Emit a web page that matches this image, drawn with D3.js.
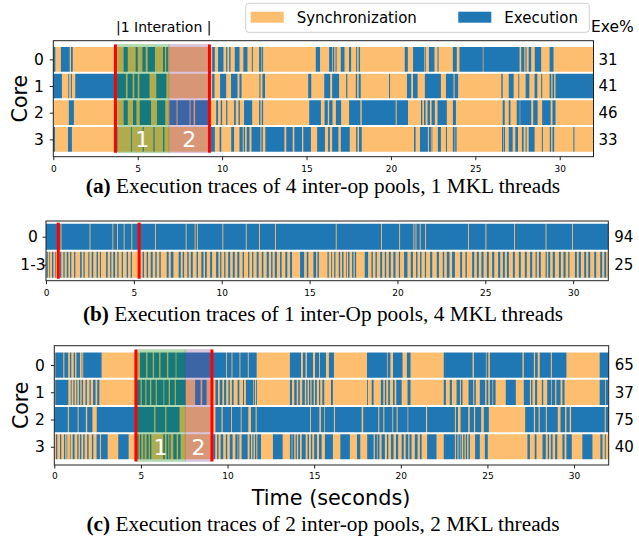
<!DOCTYPE html>
<html>
<head>
<meta charset="utf-8">
<script src="https://cdn.jsdelivr.net/npm/d3@7"></script>
<style>
  body { margin: 0; background: #fff; }
  text { font-family: "DejaVu Sans", sans-serif; }
  .caption { font-family: "Liberation Serif", "Times New Roman", serif; }
</style>
</head>
<body>
<svg id="chart" width="639" height="537"></svg>
<script>
// ---------- data (seconds) ----------
const timeTicks = [0, 5, 10, 15, 20, 25, 30];
const timeMax = 32;
const legendLabels = ["Synchronization", "Execution"];

// (a) 4 inter-op pools, 1 MKL threads
const coresA = ["0", "1", "2", "3"];
const exePctA = [31, 41, 46, 33];
const execA0 = [[0, 0.12], [0.45, 0.97], [1.05, 1.15],
  [4.17, 4.41], [4.88, 5.0], [5.28, 5.47], [5.59, 6.02], [6.5, 6.61], [6.69, 6.79],
  [9.41, 9.57], [9.76, 10.08], [10.24, 10.31], [10.42, 10.5], [10.75, 11.03], [11.26, 11.5], [11.76, 11.82],
  [12.19, 12.33], [12.37, 12.43], [15.55, 15.8], [16.34, 16.52], [16.56, 16.64], [16.72, 16.78], [17.03, 17.25],
  [17.52, 17.64], [17.94, 18.0], [18.09, 18.17], [20.82, 21.0], [21.31, 21.96], [22.0, 22.06], [22.25, 22.58],
  [22.76, 22.82], [23.67, 23.9], [24.06, 25.44], [25.48, 27.62], [27.72, 27.9], [27.97, 28.03], [28.16, 28.31],
  [28.52, 28.9], [29.4, 29.63]];
const execA1 = [[0, 0.51], [0.89, 0.94], [1.04, 1.1], [1.3, 3.68],
  [3.68, 4.3], [4.4, 4.7], [4.8, 5.0], [5.1, 5.7], [6.1, 6.7],
  [9.41, 9.55], [9.88, 10.24], [10.53, 10.91], [11.03, 11.15], [12.21, 12.27], [12.39, 12.54],
  [15.1, 15.28], [16.05, 16.4], [16.52, 16.93], [17.35, 17.42], [17.92, 18.0], [18.09, 18.21], [19.89, 19.95],
  [20.95, 21.2], [21.31, 21.58], [22.01, 22.96], [23.26, 23.71], [23.77, 23.98], [26.54, 26.62], [26.98, 27.27],
  [27.55, 27.6], [27.98, 28.2], [28.51, 28.67], [28.9, 28.96], [29.4, 29.5], [29.57, 29.67], [29.75, 32]];
const execA2 = [[0.92, 1.22],
  [4.17, 4.41], [4.72, 4.92], [5.12, 5.79], [6.14, 6.63],
  [6.88, 7.3], [7.36, 8.07], [8.13, 8.31], [8.4, 9.22],
  [9.65, 9.76], [9.92, 10.0], [10.24, 10.31], [10.71, 10.81], [10.97, 11.05], [11.3, 11.78], [12.19, 12.27],
  [12.35, 12.43], [15.16, 15.85], [16.07, 16.26], [16.34, 16.54], [16.74, 17.05], [17.52, 18.19], [18.27, 20.28],
  [20.34, 21.01], [21.78, 21.86], [21.96, 22.05], [22.17, 22.31], [22.41, 22.6], [22.76, 23.31], [23.67, 23.85],
  [26.62, 26.74], [26.98, 27.08], [27.45, 27.63], [27.66, 28.31], [28.43, 28.69], [28.96, 29.46], [29.57, 29.75]];
const execA3 = [[0, 0.1], [0.87, 1.1],
  [3.72, 3.8], [4.6, 4.65], [5.3, 5.36], [5.93, 6.0], [6.5, 6.58],
  [9.33, 9.57], [9.85, 9.95], [10.54, 10.71], [11.03, 11.22], [11.28, 11.36], [11.46, 11.62], [11.74, 12.27],
  [12.33, 12.41], [12.56, 13.69], [13.8, 14.18], [14.28, 14.73], [14.81, 15.26], [15.63, 16.09], [16.28, 16.38],
  [16.52, 16.89], [17.03, 17.56], [17.94, 18.02], [18.11, 18.27], [21.37, 21.46], [21.72, 22.19], [22.25, 22.37],
  [22.41, 22.45], [22.78, 22.96], [23.26, 23.32], [23.67, 23.77], [23.81, 23.89], [26.58, 26.66], [26.7, 26.76],
  [26.98, 27.21], [27.37, 27.53], [27.76, 27.86], [27.98, 28.04], [28.16, 28.51], [28.94, 29.0], [29.41, 29.49],
  [29.57, 29.67], [30.81, 30.87]];
const iterA = [3.68, 6.85, 9.25];   // red line, op1 -> op2, red line

// (b) 1 inter-op pool, 4 MKL threads
const coresB = ["0", "1-3"];
const exePctB = [94, 25];
const execB0 = [[0, 0.83], [0.88, 2.48], [2.53, 3.78], [3.83, 4.04], [4.09, 4.42], [4.47, 4.86], [4.91, 6.2],
  [6.25, 7.95], [8.0, 8.46], [8.51, 8.59], [8.64, 10.04], [10.09, 11.37], [11.42, 12.12], [12.17, 13.03],
  [13.08, 16.49], [16.54, 19.07], [19.12, 20.1], [20.15, 20.91], [20.96, 21.03], [21.08, 21.27], [21.32, 21.58],
  [21.63, 24.02], [24.07, 25.01], [25.06, 26.64], [26.69, 28.43], [28.48, 29.94], [29.99, 32]];
const execB1 = [[0.04, 0.1], [0.19, 0.23], [0.34, 0.42], [0.53, 0.57], [0.8, 0.87], [0.99, 1.06], [1.18, 1.27],
  [1.37, 1.44], [1.6, 1.67], [1.94, 2.03], [2.13, 2.2], [2.41, 2.47], [2.6, 2.69], [2.88, 2.96], [3.07, 3.13],
  [3.42, 3.51], [3.65, 3.72], [3.83, 3.93], [4.06, 4.13], [4.31, 4.38], [4.59, 4.67], [4.82, 4.89], [5.5, 5.58],
  [5.73, 5.81], [5.96, 6.07], [6.22, 6.3], [6.45, 6.53], [6.87, 6.98], [7.1, 7.25], [7.55, 7.67], [7.78, 7.86],
  [8.04, 8.12], [8.24, 8.35], [8.57, 8.65], [8.84, 8.96], [9.05, 9.15], [9.34, 9.45], [9.68, 9.81], [9.91, 9.98],
  [10.14, 10.21], [10.37, 10.48], [10.63, 10.74], [10.89, 11.0], [11.19, 11.27], [11.5, 11.57], [11.73, 11.8],
  [11.99, 12.1], [12.28, 12.37], [12.56, 12.68], [12.81, 12.89], [13.02, 13.14], [13.32, 13.41], [13.62, 13.73],
  [13.89, 14.0], [14.46, 14.69], [14.84, 14.93], [15.22, 15.37], [15.45, 15.53], [16.02, 16.09], [16.23, 16.28],
  [16.4, 16.47], [16.66, 16.74], [16.85, 16.93], [17.08, 17.12], [17.19, 17.27], [17.42, 17.5], [17.57, 17.65],
  [18.14, 18.33], [18.52, 18.6], [18.75, 18.83], [19.02, 19.13], [19.28, 19.36], [19.51, 19.62], [19.77, 19.89],
  [20.08, 20.15], [20.38, 20.57], [20.76, 20.88], [21.06, 21.14], [21.29, 21.37], [21.56, 21.63], [21.86, 21.98],
  [22.24, 22.36], [22.58, 22.66], [22.81, 22.96], [23.11, 23.27], [23.57, 23.68], [23.87, 23.95], [24.25, 24.37],
  [24.52, 24.63], [24.78, 24.9], [25.09, 25.2], [25.39, 25.51], [25.73, 25.85], [26.0, 26.11], [26.23, 26.34],
  [26.57, 26.68], [26.91, 27.02], [27.25, 27.36], [27.55, 27.67], [27.86, 27.93], [28.05, 28.16], [28.43, 28.5],
  [28.58, 28.69], [28.84, 28.96], [29.19, 29.3], [29.45, 29.57], [29.72, 29.79], [30.1, 30.21], [30.32, 30.44],
  [30.63, 30.74], [30.86, 30.97], [31.2, 31.31], [31.54, 31.65], [31.77, 31.88]];
const iterB = [0.7, 5.3];

// (c) 2 inter-op pools, 2 MKL threads
const coresC = ["0", "1", "2", "3"];
const exePctC = [65, 37, 75, 40];
const execC0 = [[0.06, 0.52], [0.58, 0.8], [0.9, 0.98], [1.12, 1.2], [1.28, 1.48], [1.58, 1.62], [1.67, 2.73],
  [4.95, 5.3], [5.38, 5.68], [5.76, 6.05], [6.13, 6.5], [6.58, 7.0], [7.05, 9.92], [9.97, 10.23], [10.28, 10.69],
  [10.74, 11.17], [11.22, 11.68], [13.6, 14.24], [14.35, 14.5], [14.58, 14.93], [15.05, 15.28], [15.33, 15.68],
  [15.85, 16.14], [18.05, 19.2], [19.24, 19.4], [19.55, 20.1], [20.35, 20.56], [22.48, 24.14], [24.22, 24.91],
  [24.95, 25.05], [25.14, 27.02], [27.1, 27.68], [27.75, 27.9], [28.02, 28.66], [28.72, 29.56], [31.48, 32]];
const execC1 = [[0.06, 0.81], [0.95, 1.0], [1.1, 1.17], [1.27, 1.33], [1.42, 1.5], [1.58, 1.66], [1.8, 1.88],
  [2.03, 2.1], [2.24, 2.38], [2.48, 2.6], [4.72, 4.98], [5.05, 5.25], [5.32, 5.52], [5.6, 5.85], [5.92, 6.3],
  [6.35, 6.6], [6.68, 6.95], [7.02, 7.58], [8.13, 8.44], [8.54, 8.79], [9.3, 9.45], [9.55, 9.7], [9.8, 9.92],
  [10.05, 10.13], [10.25, 10.35], [10.58, 10.68], [10.89, 10.95], [11.06, 11.49], [11.53, 11.58], [11.64, 11.69],
  [13.6, 13.72], [13.85, 13.99], [14.08, 14.17], [14.31, 14.46], [14.54, 14.62], [14.7, 14.78], [14.85, 14.97],
  [15.05, 15.15], [15.28, 15.35], [15.47, 15.58], [15.97, 16.08], [18.05, 18.1], [18.32, 18.43], [18.85, 18.99],
  [19.08, 19.16], [19.27, 19.37], [19.55, 19.64], [19.74, 20.05], [20.39, 20.56], [22.48, 22.6], [22.83, 22.95],
  [23.22, 23.41], [23.47, 23.56], [23.91, 24.18], [24.24, 24.33], [24.56, 24.87], [24.95, 25.05], [25.14, 25.29],
  [25.33, 25.47], [26.06, 26.64], [27.1, 27.45], [27.52, 27.6], [27.75, 27.87], [28.14, 28.22], [28.45, 28.68],
  [28.72, 28.91], [28.98, 29.22], [29.33, 29.45], [31.48, 31.79], [31.83, 31.97]];
const execC2 = [[0.02, 0.78], [0.84, 1.35], [1.4, 1.82], [1.9, 2.2], [2.45, 5.76], [5.84, 6.4], [6.47, 7.23],
  [9.3, 9.65], [9.72, 10.2], [10.25, 10.76], [10.81, 11.2], [11.35, 11.62], [11.68, 14.76], [14.81, 15.3],
  [15.39, 15.58], [15.62, 16.14], [16.2, 17.74], [17.83, 18.7], [18.76, 18.99], [19.05, 19.51], [19.56, 19.76],
  [19.82, 20.39], [20.43, 21.45], [21.52, 23.12], [23.18, 23.3], [23.45, 23.89], [23.98, 24.22], [24.29, 24.64],
  [24.79, 25.08], [27.18, 27.68], [27.75, 27.95], [28.02, 28.37], [28.43, 29.06], [29.22, 29.48], [29.56, 29.75],
  [29.83, 31.77], [31.83, 32]];
const execC3 = [[0.1, 0.17], [0.33, 0.4], [0.56, 0.63], [0.71, 0.75], [0.9, 0.94], [1.06, 1.17], [1.33, 1.4],
  [1.48, 1.56], [1.67, 1.75], [1.9, 1.98], [2.17, 2.25], [2.44, 2.63], [2.69, 3.08], [3.69, 4.29],
  [4.79, 4.86], [4.94, 5.02], [5.14, 5.21], [5.33, 5.44], [5.52, 5.6], [6.29, 6.38], [6.48, 6.58], [6.64, 6.71],
  [6.87, 7.06], [7.15, 7.29], [9.17, 9.29], [9.4, 9.48], [9.6, 9.75], [9.9, 9.98], [10.13, 10.29], [10.45, 10.58],
  [10.62, 10.68], [10.81, 11.16], [11.27, 11.35], [11.43, 11.5], [11.58, 11.66], [11.72, 11.93], [12.62, 13.18],
  [13.6, 13.7], [13.74, 13.85], [13.93, 14.0], [14.08, 14.18], [14.28, 14.51], [14.62, 14.7], [14.81, 14.89],
  [15.0, 15.16], [15.28, 15.43], [15.62, 16.08], [16.51, 17.06], [17.47, 17.66], [18.06, 18.43], [18.5, 18.62],
  [18.66, 18.77], [18.89, 19.08], [19.2, 19.28], [19.43, 19.58], [19.72, 19.85], [20.05, 20.17], [20.28, 20.43],
  [20.5, 20.62], [20.81, 20.97], [21.1, 21.2], [21.52, 22.06], [22.48, 23.12], [23.18, 23.27], [23.33, 23.41],
  [23.45, 23.52], [23.6, 23.68], [23.75, 23.83], [23.91, 23.99], [24.29, 24.56], [24.85, 25.02], [27.31, 27.45],
  [27.73, 27.83], [28.18, 28.37], [28.48, 28.56], [28.66, 28.76], [28.91, 29.03], [29.33, 29.45], [29.56, 29.87],
  [30.48, 31.06], [31.52, 31.64], [31.77, 31.83]];
const iterC = [4.71, 7.56, 9.1];

// ---------- drawing ----------
const SYNC = "#fdbf6f", EXEC = "#1f77b4";
const OP1 = "#008000", OP2 = "#803c8c";
const svg = d3.select("#chart");
svg.append("rect").attr("width", 639).attr("height", 537).attr("fill", "#fff");

function drawPanel(p) {
  let x = d3.scaleLinear().domain([0, timeMax]).range([p.left, p.right]);
  let y = d3.scaleLinear().domain(p.yDomain).range([p.top, p.bottom]);
  let g = svg.append("g");

  // one bar per row: sync background, execution spans on top
  p.rows.forEach(function (segs, i) {
    g.append("rect")
      .attr("x", x(0)).attr("width", x(timeMax) - x(0))
      .attr("y", y(i - 0.5)).attr("height", y(i + 0.5) - y(i - 0.5))
      .attr("fill", SYNC);
    g.selectAll(null)
      .data(segs)
      .enter()
      .append("rect")
      .attr("x", d => x(d[0]))
      .attr("width", d => x(d[1]) - x(d[0]))
      .attr("y", y(i - 0.5))
      .attr("height", y(i + 0.5) - y(i - 0.5))
      .attr("fill", EXEC);
  });

  // white edges between rows
  g.selectAll(null)
    .data(d3.range(p.rows.length + 1))
    .enter()
    .append("line")
    .attr("x1", x(0)).attr("x2", x(timeMax))
    .attr("y1", d => y(d - 0.5)).attr("y2", d => y(d - 0.5))
    .attr("stroke", "#fff").attr("stroke-width", 2);

  // shaded ops of one iteration
  if (p.shade) {
    let span = [[p.iter[0], p.iter[1], OP1], [p.iter[1], p.iter[2], OP2]];
    g.selectAll(null)
      .data(span)
      .enter()
      .append("rect")
      .attr("x", d => x(d[0]))
      .attr("width", d => x(d[1]) - x(d[0]))
      .attr("y", y(p.shadeY[0]))
      .attr("height", y(p.shadeY[1]) - y(p.shadeY[0]))
      .attr("fill", d => d[2])
      .attr("fill-opacity", 0.3)
      .attr("stroke", d => d[2])
      .attr("stroke-opacity", 0.12);
  }

  // iteration boundaries
  let reds = p.shade ? [p.iter[0], p.iter[2]] : p.iter;
  g.selectAll(null)
    .data(reds)
    .enter()
    .append("line")
    .attr("x1", d => x(d)).attr("x2", d => x(d))
    .attr("y1", y(p.shadeY[0])).attr("y2", y(p.shadeY[1]))
    .attr("stroke", "red").attr("stroke-width", 3);

  if (p.shade) {
    let mids = [(p.iter[0] + p.iter[1]) / 2, (p.iter[1] + p.iter[2]) / 2];
    g.selectAll(null)
      .data(mids)
      .enter()
      .append("text")
      .attr("x", d => x(d))
      .attr("y", y(p.rows.length - 1) + p.opLabelDy)
      .attr("text-anchor", "middle")
      .attr("fill", "#fff")
      .style("font-size", "22px")
      .text((d, i) => i + 1);
  }

  // frame
  g.append("rect")
    .attr("x", p.left).attr("y", p.top)
    .attr("width", p.right - p.left).attr("height", p.bottom - p.top)
    .attr("fill", "none").attr("stroke", "#222").attr("stroke-width", 1);

  // x axis
  let xAxis = g.append("g")
    .attr("transform", "translate(0," + p.bottom + ")")
    .call(d3.axisBottom(x).tickValues(timeTicks).tickSize(3.5).tickPadding(p.xPad));
  xAxis.select(".domain").remove();
  xAxis.selectAll("text").style("font-size", "9px").style("font-family", "DejaVu Sans");
  xAxis.selectAll("line").attr("stroke", "#222");

  // core labels on the left
  let yAxis = g.append("g")
    .attr("transform", "translate(" + p.left + ",0)")
    .call(d3.axisLeft(y).tickValues(d3.range(p.rows.length)).tickFormat(i => p.cores[i])
      .tickSize(3.5).tickPadding(6));
  yAxis.select(".domain").remove();
  yAxis.selectAll("text").style("font-size", "15.5px").style("font-family", "DejaVu Sans");
  yAxis.selectAll("line").attr("stroke", "#222");
  if (p.centerCores) {
    yAxis.selectAll("text").attr("text-anchor", "middle").attr("x", -13);
  }

  // Exe% on the right
  g.selectAll(null)
    .data(p.exe)
    .enter()
    .append("text")
    .attr("x", p.right + p.exeGap)
    .attr("y", (d, i) => y(i))
    .attr("dy", "0.36em")
    .style("font-size", "15px")
    .text(d => d);

  if (p.coreTitle) {
    g.append("text")
      .attr("transform", "translate(" + p.coreTitleX + "," + (p.top + p.bottom) / 2 + ") rotate(-90)")
      .attr("text-anchor", "middle")
      .style("font-size", "20.5px")
      .text("Core");
  }

  // caption
  let cap = svg.append("text")
    .attr("class", "caption")
    .attr("x", 323).attr("y", p.captionY)
    .attr("text-anchor", "middle")
    .style("font-size", "21.3px");
  cap.append("tspan").style("font-weight", "bold").text(p.caption[0]);
  cap.append("tspan").text(p.caption[1]);
  return x;
}

drawPanel({
  left: 53.3, right: 593.5, top: 40.7, bottom: 156.7, yDomain: [-0.7, 3.65],
  rows: [execA0, execA1, execA2, execA3], cores: coresA, exe: exePctA, exeGap: 5,
  iter: iterA, shade: true, shadeY: [-0.56, 3.5], opLabelDy: 7.5, xPad: 5.5,
  coreTitle: true, coreTitleX: 27,
  captionY: 192.5, caption: ["(a)", " Execution traces of 4 inter-op pools, 1 MKL threads"]
});

drawPanel({
  left: 46, right: 608.3, top: 221, bottom: 280.7, yDomain: [-0.56, 1.57],
  rows: [execB0, execB1], cores: coresB, exe: exePctB, exeGap: 6, centerCores: true,
  iter: iterB, shade: false, shadeY: [-0.5, 1.5], xPad: 5.5,
  captionY: 321, caption: ["(b)", " Execution traces of 1 inter-Op pools, 4 MKL threads"]
});

drawPanel({
  left: 54.3, right: 608.7, top: 345.7, bottom: 465, yDomain: [-0.71, 3.67],
  rows: [execC0, execC1, execC2, execC3], cores: coresC, exe: exePctC, exeGap: 6,
  iter: iterC, shade: true, shadeY: [-0.57, 3.54], opLabelDy: 8, xPad: 4,
  coreTitle: true, coreTitleX: 28,
  captionY: 530.5, caption: ["(c)", " Execution traces of 2 inter-op pools, 2 MKL threads"]
});

// x label of the bottom panel
svg.append("text")
  .attr("x", 331).attr("y", 505)
  .attr("text-anchor", "middle")
  .style("font-size", "20.8px")
  .text("Time (seconds)");

// header: iteration marker, legend, Exe%
svg.append("text")
  .attr("x", 163.7).attr("y", 32.3)
  .attr("text-anchor", "middle")
  .style("font-size", "14px")
  .text("|1 Interation |");

let legend = svg.append("g");
legend.append("rect")
  .attr("x", 245.7).attr("y", 3.3).attr("width", 343.6).attr("height", 29)
  .attr("rx", 3).attr("fill", "#fff").attr("stroke", "#d0d0d0");
let legendItems = [[legendLabels[0], SYNC, 250.7], [legendLabels[1], EXEC, 458.3]];
legend.selectAll(null)
  .data(legendItems)
  .enter()
  .append("rect")
  .attr("x", d => d[2]).attr("y", 11.7).attr("width", 33).attr("height", 11)
  .attr("fill", d => d[1]);
legend.selectAll(null)
  .data(legendItems)
  .enter()
  .append("text")
  .attr("x", d => d[2] + 46).attr("y", 22.7)
  .style("font-size", "15px")
  .text(d => d[0]);

svg.append("text")
  .attr("x", 591).attr("y", 32.3)
  .style("font-size", "15.5px")
  .text("Exe%");
</script>
</body>
</html>
